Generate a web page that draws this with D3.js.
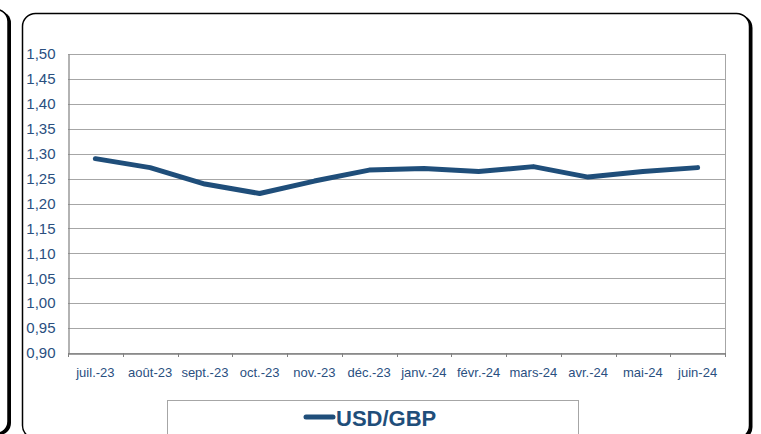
<!DOCTYPE html>
<html>
<head>
<meta charset="utf-8">
<script src="https://cdn.jsdelivr.net/npm/d3@7"></script>
<style>
  html, body { margin: 0; padding: 0; background: #fff; }
  svg { display: block; font-family: "Liberation Sans", Arial, sans-serif; }
</style>
</head>
<body>
<div id="viz"></div>
<script>
// data
var months = ["juil.-23", "août-23", "sept.-23", "oct.-23", "nov.-23", "déc.-23",
              "janv.-24", "févr.-24", "mars-24", "avr.-24", "mai-24", "juin-24"];
var usdGbp = [1.290, 1.272, 1.239, 1.220, 1.245, 1.267,
              1.270, 1.264, 1.274, 1.253, 1.264, 1.272];
var yTicks = [0.90, 0.95, 1.00, 1.05, 1.10, 1.15, 1.20, 1.25, 1.30, 1.35, 1.40, 1.45, 1.50];
var seriesName = "USD/GBP";

var W = 761, H = 434;
var blue = "#1F4E7A", labelColor = "#2A4F7F";

var svg = d3.select("#viz").append("svg")
    .attr("width", W)
    .attr("height", H);

/* ---- panels ---- */
// right edge of the panel on the left
svg.append("rect").attr("x", -297).attr("y", 11).attr("width", 308).attr("height", 424)
    .attr("rx", 12).attr("fill", "#000");
svg.append("rect").attr("x", -300).attr("y", 9.5).attr("width", 308).attr("height", 424)
    .attr("rx", 12).attr("fill", "#fff").attr("stroke", "#000").attr("stroke-width", 1.5);

// main panel
svg.append("rect").attr("x", 25.5).attr("y", 15).attr("width", 727).attr("height", 425)
    .attr("rx", 13).attr("fill", "#000");
svg.append("rect").attr("x", 22.5).attr("y", 13.5).attr("width", 727).attr("height", 425)
    .attr("rx", 13).attr("fill", "#fff").attr("stroke", "#000").attr("stroke-width", 1.5);

/* ---- plot area ---- */
var plotLeft = 68, plotRight = 725, plotTop = 54, plotBottom = 353;

var x = d3.scaleBand().domain(months).range([plotLeft, plotRight]).padding(0);
var y = d3.scaleLinear().domain([0.90, 1.50]).range([plotBottom, plotTop]);

var fr = d3.formatLocale({decimal: ",", thousands: " ", grouping: [3], currency: ["", " €"]});
var fmt = fr.format(".2f");

// gridlines
svg.append("g")
    .selectAll("line")
    .data(yTicks)
    .enter()
    .append("line")
    .attr("x1", plotLeft).attr("x2", plotRight)
    .attr("y1", function (d) { return Math.round(y(d)) + 0.5; })
    .attr("y2", function (d) { return Math.round(y(d)) + 0.5; })
    .attr("stroke", "#A6A6A6")
    .attr("stroke-width", 1);

// right border of plot
svg.append("line")
    .attr("x1", plotRight + 0.5).attr("x2", plotRight + 0.5)
    .attr("y1", plotTop).attr("y2", plotBottom)
    .attr("stroke", "#A6A6A6");

// y axis
var yAxis = svg.append("g")
    .attr("transform", "translate(" + (plotLeft + 0.5) + ",0)")
    .call(d3.axisLeft(y).tickValues(yTicks).tickFormat(fmt).tickSize(0).tickPadding(13));
yAxis.select(".domain").attr("stroke", "#808080").attr("stroke-width", 1.2);
yAxis.selectAll("text")
    .attr("fill", labelColor)
    .attr("font-size", "15px")
    .attr("font-family", "Liberation Sans, Arial, sans-serif");

// x axis, ticks on category boundaries
var xAxis = svg.append("g")
    .attr("transform", "translate(0," + (plotBottom + 0.5) + ")")
    .call(d3.axisBottom(x).tickSize(0).tickPadding(14));
xAxis.select(".domain").attr("stroke", "#808080").attr("stroke-width", 1.5);
xAxis.selectAll("text")
    .attr("fill", labelColor)
    .attr("font-size", "13px")
    .attr("font-family", "Liberation Sans, Arial, sans-serif");
svg.append("g")
    .selectAll("line")
    .data(months.concat(["end"]))
    .enter()
    .append("line")
    .attr("x1", function (d, i) { return i < months.length ? Math.round(x(d)) + 0.5 : plotRight + 0.5; })
    .attr("x2", function (d, i) { return i < months.length ? Math.round(x(d)) + 0.5 : plotRight + 0.5; })
    .attr("y1", plotBottom).attr("y2", plotBottom + 4)
    .attr("stroke", "#808080");

// the line
var line = d3.line()
    .x(function (d, i) { return x(months[i]) + x.bandwidth() / 2; })
    .y(function (d) { return y(d); });

svg.append("path")
    .datum(usdGbp)
    .attr("d", line)
    .attr("fill", "none")
    .attr("stroke", blue)
    .attr("stroke-width", 5)
    .attr("stroke-linecap", "round")
    .attr("stroke-linejoin", "round");

/* ---- legend ---- */
svg.append("rect")
    .attr("x", 167.5).attr("y", 400.5).attr("width", 411).attr("height", 60)
    .attr("fill", "#fff").attr("stroke", "#A6A6A6");
svg.append("line")
    .attr("x1", 306).attr("x2", 333).attr("y1", 417).attr("y2", 417)
    .attr("stroke", blue).attr("stroke-width", 5).attr("stroke-linecap", "round");
svg.append("text")
    .attr("x", 336).attr("y", 425.5)
    .attr("fill", blue)
    .attr("font-size", "22px")
    .attr("font-weight", "bold")
    .text(seriesName);
</script>
</body>
</html>
